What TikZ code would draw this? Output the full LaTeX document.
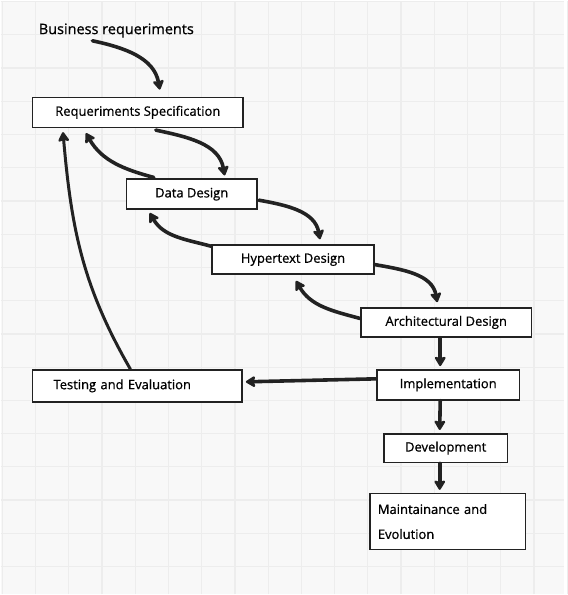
\documentclass[tikz,border=0pt]{standalone}
\usepackage{fontspec}
\setmainfont{Open Sans}
\newfontfamily\sketchfont{Open Sans}[UprightFeatures={FakeBold=0.8}]
\usepackage{tikz}
\usetikzlibrary{arrows.meta,positioning,calc}
\definecolor{PaperBg}{HTML}{F8F8F8}
\definecolor{GridLine}{HTML}{EDEDED}
\definecolor{SketchInk}{HTML}{222222}

\begin{document}
\begin{tikzpicture}[x=1pt, y=1pt,
  phase/.style={draw=SketchInk, fill=white, line width=1.6pt, inner sep=0pt,
    font=\sketchfont\fontsize{13}{14}\selectfont, text=black},
  flow/.style={SketchInk, line width=3.6pt, line cap=round,
    -{Stealth[length=11pt, width=13pt, inset=2pt, round]}},
  gridline/.style={GridLine, line width=1.2pt}]

% paper + grid
\fill[PaperBg] (0,0) rectangle (565,595);
\foreach \k in {0,...,17}{
  \draw[gridline] ({1.7+33.3*\k},0) -- ({1.7+33.3*\k},595);
  \draw[gridline] (0,{594-33.3*\k}) -- (565,{594-33.3*\k});
}
\useasboundingbox (0,0) rectangle (565,595);

% phases
\node[font=\sketchfont\fontsize{14.5}{15}\selectfont, inner sep=1pt] (biz) at (116,565) {Business requeriments};
\node[phase, minimum width=211, minimum height=30] (req) at (137.5,483) {Requeriments Specification};
\node[phase, minimum width=131, minimum height=30] (data) at (191.5,401) {Data Design};
\node[phase, minimum width=162, minimum height=29] (hyper) at (293,335.5) {Hypertext Design};
\node[phase, minimum width=171, minimum height=29] (arch) at (446.5,272.5) {Architectural Design};
\node[phase, minimum width=143, minimum height=30] (impl) at (448.5,210) {Implementation};
\node[phase, minimum width=210, minimum height=32, text width=196, align=left] (test) at (137,209) {\hspace{14pt}Testing and Evaluation};
\node[phase, minimum width=124, minimum height=29] (dev) at (446,146.5) {Development};
\node[phase, minimum width=156, minimum height=56, text width=140, align=left,
  font=\sketchfont\fontsize{13}{25}\selectfont] (maint) at (448,73) {Maintainance and\\Evolution};

% forward steps
\draw[flow] ($(biz.south)+(-24,-2)$) to[out=-12, in=100] ($(req.north)+(22,7)$);
\draw[flow] ($(req.south)+(18,-2)$) to[out=-12, in=100] ($(data.north)+(33,3)$);
\draw[flow] ($(data.east)+(1,-6)$) to[out=-10, in=100] ($(hyper.north)+(27,5)$);
\draw[flow] ($(hyper.east)+(0,-5)$) to[out=-10, in=100] ($(arch.north)+(-9,5)$);
\draw[flow] ($(arch.south)+(-6,0)$) -- ($(impl.north)+(-8,3)$);
\draw[flow] ($(impl.south)+(-8,0)$) -- ($(dev.north)+(-6,3)$);
\draw[flow] ($(dev.south)+(-6,0)$) -- ($(maint.north)+(-8,3)$);
\draw[flow] ($(impl.west)+(0,6)$) -- ($(test.east)+(3,4)$);

% back steps
\draw[flow] ($(data.north)+(-38,1)$) to[out=165, in=-60] ($(req.south)+(-52,-5)$);
\draw[flow] ($(hyper.north west)+(0,-2)$) to[out=165, in=-60] ($(data.south)+(-42,-3)$);
\draw[flow] ($(arch.west)+(0,4)$) to[out=165, in=-60] ($(hyper.south)+(3,-6)$);
\draw[flow, line width=3pt] ($(test.north)+(-7,0)$) to[out=120, in=-85] ($(req.south)+(-75,-4)$);
\end{tikzpicture}
\end{document}
